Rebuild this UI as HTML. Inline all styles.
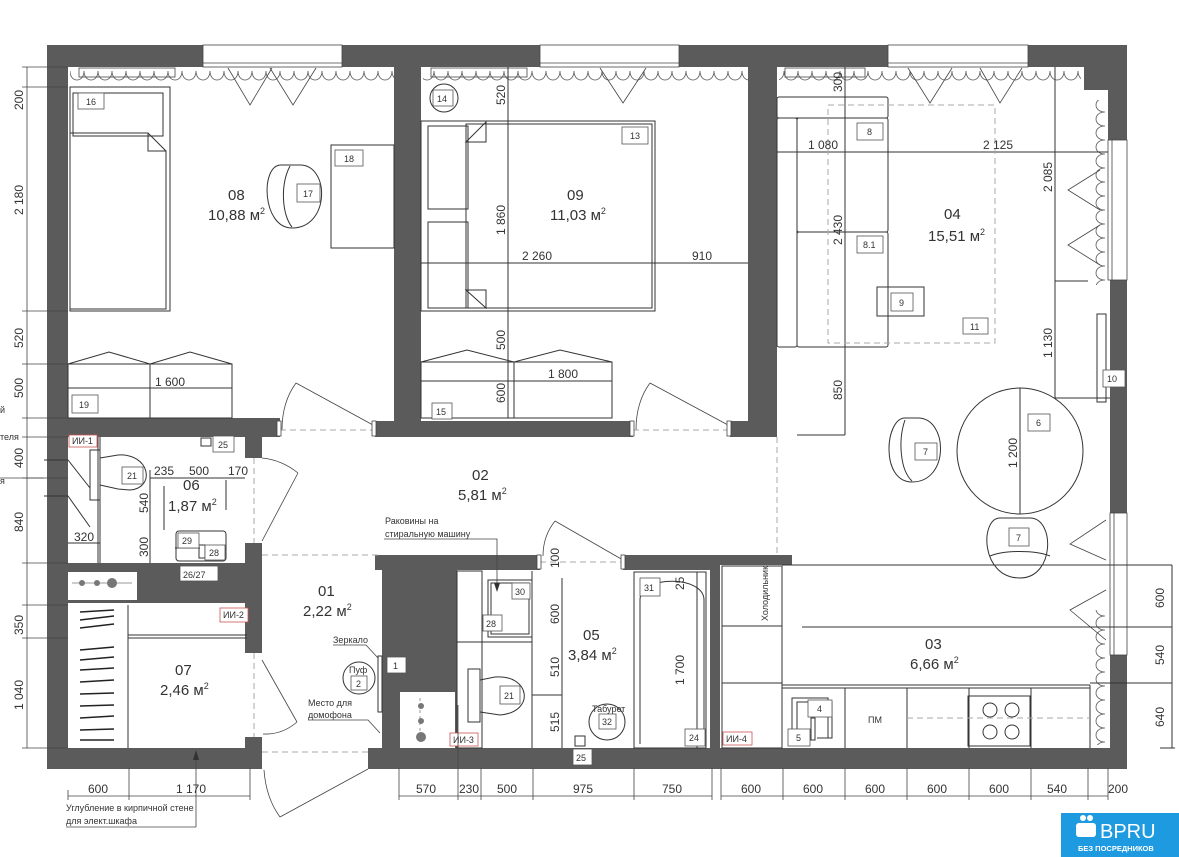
<!DOCTYPE html>
<html><head><meta charset="utf-8">
<style>
html,body{margin:0;padding:0;background:#fff;}
svg{display:block;}
text{font-family:"Liberation Sans Narrow","Liberation Sans",sans-serif;fill:#333;}
.r{font-size:15px;}
.d{font-size:12px;}
.s{font-size:9px;}
.l{fill:none;stroke:#333;stroke-width:1;}
.t{fill:none;stroke:#444;stroke-width:0.8;}
.w{fill:#5b5b5b;}
.bx{fill:#fff;stroke:#555;stroke-width:0.8;}
.red{fill:#fff;stroke:#c55;stroke-width:0.8;}
.dash{fill:none;stroke:#aaa;stroke-width:1;stroke-dasharray:6,4;}
</style></head><body>
<svg width="1179" height="857" viewBox="0 0 1179 857" xmlns="http://www.w3.org/2000/svg">
<defs>
<pattern id="sc" width="14" height="14" patternUnits="userSpaceOnUse">
<path d="M0,1 C0,13 14,13 14,1" fill="none" stroke="#555" stroke-width="0.8"/>
</pattern>
<pattern id="scv" width="14" height="14" patternUnits="userSpaceOnUse">
<path d="M13,0 C1,0 1,14 13,14" fill="none" stroke="#555" stroke-width="0.8"/>
</pattern>
</defs>

<!-- WALLS -->
<g class="w">
<rect x="47" y="45" width="156" height="22"/>
<rect x="342" y="45" width="198" height="22"/>
<rect x="679" y="45" width="209" height="22"/>
<rect x="1028" y="45" width="99" height="22"/>
<rect x="1084" y="45" width="43" height="45"/>
<rect x="1108" y="90" width="19" height="50"/>
<rect x="1110" y="280" width="17" height="233"/>
<rect x="1110" y="655" width="17" height="114"/>
<rect x="47" y="45" width="21" height="724"/>
<rect x="47" y="748" width="215" height="21"/>
<rect x="368" y="748" width="759" height="21"/>
<rect x="394" y="45" width="27" height="392"/>
<rect x="748" y="45" width="29" height="392"/>
<rect x="47" y="418" width="233" height="19"/>
<rect x="375" y="421" width="258" height="16"/>
<rect x="730" y="421" width="47" height="16"/>
<rect x="245" y="437" width="17" height="21"/>
<rect x="245" y="543" width="17" height="110"/>
<rect x="245" y="737" width="17" height="11"/>
<rect x="47" y="563" width="215" height="40"/>
<rect x="382" y="555" width="75" height="193"/>
<rect x="375" y="555" width="165" height="15"/>
<rect x="623" y="555" width="97" height="15"/>
<rect x="720" y="555" width="72" height="10"/>
<rect x="710" y="570" width="10" height="178"/>
</g>
<!-- windows -->
<g class="t">
<rect x="203" y="45" width="139" height="22" fill="#fff"/><line x1="203" y1="63" x2="342" y2="63"/>
<rect x="540" y="45" width="139" height="22" fill="#fff"/><line x1="540" y1="63" x2="679" y2="63"/>
<rect x="888" y="45" width="140" height="22" fill="#fff"/><line x1="888" y1="63" x2="1028" y2="63"/>
<rect x="1108" y="140" width="19" height="140" fill="#fff"/><line x1="1112" y1="140" x2="1112" y2="280"/>
<rect x="1110" y="513" width="17" height="142" fill="#fff"/><line x1="1114" y1="513" x2="1114" y2="655"/>
</g>
<!-- shaft boxes -->
<rect x="68" y="572" width="69" height="28" fill="#fff"/>
<g stroke="#777" stroke-width="0.8"><line x1="72" y1="583" x2="132" y2="583"/></g>
<circle cx="82" cy="583" r="3" fill="#777"/><circle cx="97" cy="583" r="3" fill="#777"/><circle cx="112" cy="583" r="5" fill="#777"/>
<rect x="400" y="692" width="55" height="56" fill="#fff"/>
<line x1="420" y1="698" x2="420" y2="742" stroke="#999" stroke-dasharray="3,3"/>
<circle cx="421" cy="706" r="3" fill="#777"/><circle cx="421" cy="721" r="3" fill="#777"/><circle cx="421" cy="737" r="5" fill="#777"/>

<!-- curtains -->
<rect x="70" y="71" width="324" height="12" fill="url(#sc)"/>
<rect x="423" y="71" width="325" height="12" fill="url(#sc)"/>
<rect x="779" y="71" width="302" height="12" fill="url(#sc)"/>
<rect x="1093" y="100" width="12" height="185" fill="url(#scv)"/>
<rect x="1095" y="610" width="12" height="135" fill="url(#scv)"/>
<g class="t">
<rect x="79" y="68" width="96" height="9"/><rect x="431" y="68" width="96" height="9"/><rect x="785" y="68" width="80" height="9"/>
<polyline points="228,68 250,105 272,68"/><polyline points="270,68 293,105 316,68"/>
<polyline points="600,68 623,103 646,68"/><polyline points="908,68 930,103 952,68"/><polyline points="980,68 1000,103 1022,68"/>
<polyline points="1100,170 1068,190 1100,210"/><polyline points="1100,225 1068,245 1100,265"/>
<polyline points="1106,520 1070,544 1106,560"/><polyline points="1106,590 1070,610 1106,640"/>
</g>

<!-- ROOM 08 -->
<g class="l">
<rect x="70" y="87" width="100" height="224"/>
<rect x="73" y="93" width="90" height="43"/>
<path d="M70,133 H148 L166,151 V309 H70"/><path d="M148,133 V151 H166"/>
<path d="M281,165 C260,165 262,228 292,228 C330,228 330,165 300,165 Z"/><path d="M290,166 C280,185 282,215 292,227"/>
<rect x="331" y="145" width="63" height="103"/>
<rect x="68" y="364" width="164" height="54"/><line x1="150" y1="364" x2="150" y2="418"/>
<polyline points="68,364 109,352 150,364 190,352 232,364"/>
<line x1="68" y1="388" x2="232" y2="388"/>
</g>
<rect class="bx" x="78" y="93" width="26" height="16"/><text class="s" x="86" y="105">16</text>
<rect class="bx" x="297" y="184" width="23" height="18"/><text class="s" x="303" y="197">17</text>
<rect class="bx" x="335" y="150" width="28" height="16"/><text class="s" x="344" y="162">18</text>
<rect class="bx" x="72" y="395" width="26" height="18"/><text class="s" x="79" y="408">19</text>
<text class="d" x="155" y="386">1 600</text>
<text class="r" x="228" y="200">08</text>
<text class="r" x="208" y="220">10,88 м<tspan font-size="9" dy="-6">2</tspan></text>

<!-- ROOM 09 -->
<g class="l">
<circle cx="444" cy="98" r="14"/>
<rect x="421" y="121" width="234" height="190"/><rect x="466" y="124" width="186" height="184"/>
<rect x="428" y="126" width="40" height="83"/><rect x="428" y="222" width="40" height="86"/>
<path d="M466,142 L486,122 V142 Z M466,290 L486,308 V290 Z"/>
<line x1="508" y1="67" x2="508" y2="418"/>
<line x1="421" y1="263" x2="748" y2="263"/>
<rect x="421" y="362" width="191" height="56"/><line x1="514" y1="362" x2="514" y2="418"/>
<polyline points="421,362 467,350 514,362 560,350 612,362"/>
<line x1="421" y1="381" x2="612" y2="381"/>
</g>
<rect class="bx" x="433" y="90" width="20" height="16"/><text class="s" x="437" y="102">14</text>
<rect class="bx" x="622" y="127" width="26" height="17"/><text class="s" x="630" y="139">13</text>
<rect class="bx" x="432" y="403" width="20" height="16"/><text class="s" x="436" y="415">15</text>
<text class="d" transform="translate(505,105) rotate(-90)">520</text>
<text class="d" transform="translate(505,235) rotate(-90)">1 860</text>
<text class="d" transform="translate(505,350) rotate(-90)">500</text>
<text class="d" transform="translate(505,403) rotate(-90)">600</text>
<text class="d" x="522" y="260">2 260</text><text class="d" x="692" y="260">910</text>
<text class="d" x="548" y="378">1 800</text>
<text class="r" x="567" y="200">09</text>
<text class="r" x="550" y="220">11,03 м<tspan font-size="9" dy="-6">2</tspan></text>

<!-- ROOM 04 -->
<g class="l">
<rect x="777" y="97" width="111" height="21" rx="2"/>
<rect x="777" y="118" width="20" height="229" rx="2"/>
<rect x="797" y="118" width="91" height="114" rx="2"/>
<rect x="797" y="232" width="91" height="115" rx="2"/>
<rect x="877" y="287" width="47" height="29"/>
<line x1="777" y1="152" x2="1108" y2="152"/>
<line x1="845" y1="67" x2="845" y2="435"/>
<line x1="797" y1="435" x2="845" y2="435"/>
<line x1="1055" y1="67" x2="1055" y2="398"/>
<line x1="1055" y1="281" x2="1088" y2="281"/>
<line x1="1055" y1="398" x2="1110" y2="398"/>
<rect x="1097" y="314" width="9" height="88"/>
<circle cx="1020" cy="451" r="63"/><line x1="1020" y1="388" x2="1020" y2="514"/>
<path d="M905,418 C885,418 880,482 912,482 C950,482 948,418 918,418 Z"/><path d="M905,420 C898,440 900,470 912,481"/>
<path d="M1000,518 C980,518 980,578 1020,578 C1055,578 1055,518 1030,518 Z"/><path d="M990,556 C1005,550 1035,550 1050,556"/>
</g>
<rect x="828" y="105" width="167" height="238" class="dash"/>
<rect class="bx" x="857" y="123" width="26" height="17"/><text class="s" x="867" y="135">8</text>
<rect class="bx" x="857" y="236" width="26" height="17"/><text class="s" x="863" y="248">8.1</text>
<rect class="bx" x="891" y="293" width="22" height="18"/><text class="s" x="899" y="306">9</text>
<rect class="bx" x="963" y="318" width="25" height="16"/><text class="s" x="970" y="330">11</text>
<rect class="bx" x="1103" y="370" width="22" height="17"/><text class="s" x="1107" y="382">10</text>
<rect class="bx" x="1028" y="414" width="22" height="17"/><text class="s" x="1036" y="426">6</text>
<rect class="bx" x="915" y="443" width="22" height="17"/><text class="s" x="923" y="455">7</text>
<rect class="bx" x="1009" y="528" width="20" height="18"/><text class="s" x="1016" y="541">7</text>
<text class="d" x="808" y="149">1 080</text><text class="d" x="983" y="149">2 125</text>
<text class="d" transform="translate(842,92) rotate(-90)">300</text>
<text class="d" transform="translate(842,245) rotate(-90)">2 430</text>
<text class="d" transform="translate(842,400) rotate(-90)">850</text>
<text class="d" transform="translate(1052,192) rotate(-90)">2 085</text>
<text class="d" transform="translate(1052,358) rotate(-90)">1 130</text>
<text class="d" transform="translate(1017,468) rotate(-90)">1 200</text>
<text class="r" x="944" y="219">04</text>
<text class="r" x="928" y="241">15,51 м<tspan font-size="9" dy="-6">2</tspan></text>
<line x1="777" y1="437" x2="777" y2="555" class="dash"/>

<!-- HALL 02 -->
<text class="r" x="472" y="480">02</text>
<text class="r" x="458" y="500">5,81 м<tspan font-size="9" dy="-6">2</tspan></text>
<text class="s" x="385" y="524">Раковины на</text>
<text class="s" x="385" y="537">стиральную машину</text>
<polyline class="t" points="384,539 497,539 497,590"/>
<path d="M494,583 L497,592 L500,583 Z" fill="#333"/>

<!-- doors -->
<g class="t">
<path d="M373,425 L296,383 M296,383 Q282,402 282,430"/>
<path d="M728,425 L650,383 M650,383 Q636,402 636,430"/>
<path d="M262,541 L298,473 M298,473 Q282,460 262,458"/>
<path d="M623,560 L555,521 M555,521 Q543,536 543,556"/>
<path d="M262,660 L297,722 M297,722 Q282,735 263,734"/>
<path d="M368,769 L280,817 M280,817 Q266,798 264,770"/>
</g>
<g class="dash" stroke-width="0.8">
<line x1="280" y1="430" x2="375" y2="430"/><line x1="633" y1="430" x2="730" y2="430"/>
<line x1="254" y1="458" x2="254" y2="543"/><line x1="254" y1="653" x2="254" y2="737"/>
<line x1="540" y1="562" x2="623" y2="562"/><line x1="262" y1="752" x2="368" y2="752"/>
<line x1="262" y1="555" x2="382" y2="555"/>
</g>
<g fill="#fff" stroke="#444" stroke-width="0.8">
<rect x="277" y="421" width="4" height="15"/><rect x="372" y="421" width="4" height="15"/>
<rect x="630" y="421" width="4" height="15"/><rect x="727" y="421" width="4" height="15"/>
<rect x="537" y="555" width="4" height="14"/><rect x="621" y="555" width="4" height="14"/>
</g>

<!-- ROOM 06 -->
<g class="l">
<line x1="100" y1="437" x2="100" y2="563"/><line x1="98" y1="437" x2="98" y2="563"/>
<rect x="90" y="450" width="10" height="50"/>
<path d="M100,458 L118,455 C150,453 156,488 130,490 L118,489 L100,485"/>
<line x1="150" y1="470" x2="150" y2="563"/>
<line x1="150" y1="478" x2="245" y2="478"/>
<line x1="68" y1="543" x2="100" y2="543"/>
<rect x="176" y="531" width="50" height="30" rx="3"/>
<line x1="175" y1="548" x2="200" y2="548"/><rect x="199" y="545" width="6" height="13"/>
<line x1="164" y1="486" x2="164" y2="530"/><line x1="226" y1="480" x2="226" y2="510"/>
<polyline points="44,460 68,460 90,488"/><polyline points="44,496 68,496 90,527"/>
<rect x="201" y="438" width="10" height="8"/>
</g>
<rect class="red" x="69" y="435" width="28" height="12"/><text class="s" x="72" y="444" fill="#b44">ИИ-1</text>
<rect class="bx" x="213" y="436" width="21" height="16"/><text class="s" x="218" y="448">25</text>
<rect class="bx" x="122" y="467" width="21" height="17"/><text class="s" x="127" y="479">21</text>
<rect class="bx" x="178" y="533" width="21" height="15"/><text class="s" x="182" y="544">29</text>
<rect class="bx" x="205" y="545" width="20" height="15"/><text class="s" x="209" y="556">28</text>
<rect class="bx" x="180" y="566" width="38" height="15"/><text class="s" x="183" y="578">26/27</text>
<text class="d" x="154" y="475">235</text><text class="d" x="189" y="475">500</text><text class="d" x="228" y="475">170</text>
<text class="d" x="74" y="541">320</text>
<text class="d" transform="translate(148,513) rotate(-90)">540</text>
<text class="d" transform="translate(148,557) rotate(-90)">300</text>
<text class="r" x="183" y="490">06</text>
<text class="r" x="168" y="511">1,87 м<tspan font-size="9" dy="-6">2</tspan></text>

<!-- ROOM 07 -->
<g class="l">
<line x1="128" y1="605" x2="128" y2="748"/><line x1="128" y1="638" x2="247" y2="638"/><line x1="128" y1="635" x2="247" y2="635"/>
</g>
<g stroke="#222" stroke-width="1.5">
<line x1="80" y1="612" x2="114" y2="610"/><line x1="80" y1="620" x2="114" y2="616"/><line x1="80" y1="628" x2="114" y2="624"/>
<line x1="80" y1="650" x2="114" y2="647"/><line x1="80" y1="660" x2="114" y2="657"/><line x1="80" y1="670" x2="114" y2="668"/>
<line x1="80" y1="682" x2="114" y2="680"/><line x1="80" y1="694" x2="114" y2="693"/><line x1="80" y1="706" x2="114" y2="705"/>
<line x1="80" y1="718" x2="114" y2="716"/><line x1="80" y1="730" x2="114" y2="729"/><line x1="80" y1="740" x2="114" y2="740"/>
</g>
<rect class="red" x="220" y="608" width="28" height="14"/><text class="s" x="223" y="618" fill="#b44">ИИ-2</text>
<text class="r" x="175" y="675">07</text>
<text class="r" x="160" y="695">2,46 м<tspan font-size="9" dy="-6">2</tspan></text>

<!-- ROOM 01 -->
<text class="r" x="318" y="596">01</text>
<text class="r" x="303" y="616">2,22 м<tspan font-size="9" dy="-6">2</tspan></text>
<text class="s" x="333" y="643">Зеркало</text>
<polyline class="t" points="333,645 366,645 378,658"/>
<rect x="378" y="656" width="4" height="56" fill="#fff" stroke="#333"/>
<rect class="bx" x="387" y="657" width="19" height="16"/><text class="s" x="393" y="669">1</text>
<circle cx="359" cy="678" r="16" class="l"/>
<text class="s" x="349" y="673">Пуф</text>
<rect class="bx" x="351" y="676" width="16" height="14"/><text class="s" x="356" y="687">2</text>
<text class="s" x="308" y="706">Место для</text>
<text class="s" x="308" y="718">домофона</text>
<polyline class="t" points="308,720 368,720 380,733"/>

<!-- ROOM 05 -->
<g class="l">
<rect x="457" y="571" width="25" height="177"/>
<line x1="457" y1="642" x2="532" y2="642"/>
<rect x="488" y="580" width="44" height="57"/><rect x="491" y="583" width="38" height="51"/>
<line x1="532" y1="571" x2="532" y2="748"/>
<rect x="468" y="669" width="12" height="53"/>
<path d="M480,680 L495,677 C530,674 536,712 500,715 L480,712"/>
<line x1="532" y1="695" x2="562" y2="695"/>
<line x1="562" y1="578" x2="562" y2="748"/>
<circle cx="607" cy="722" r="18"/>
<rect x="634" y="572" width="72" height="176"/>
<path d="M640,744 V600 C640,575 704,575 704,600 V744"/><line x1="697" y1="572" x2="697" y2="748"/>
<rect x="575" y="736" width="10" height="10"/>
</g>
<rect class="bx" x="512" y="583" width="18" height="16"/><text class="s" x="515" y="595">30</text>
<rect class="bx" x="483" y="615" width="19" height="16"/><text class="s" x="486" y="627">28</text>
<rect class="bx" x="500" y="686" width="20" height="18"/><text class="s" x="504" y="699">21</text>
<rect class="bx" x="599" y="714" width="17" height="15"/><text class="s" x="602" y="725">32</text>
<text class="s" x="592" y="712">Табурет</text>
<rect class="bx" x="640" y="578" width="20" height="18"/><text class="s" x="644" y="591">31</text>
<rect class="bx" x="685" y="729" width="20" height="17"/><text class="s" x="689" y="741">24</text>
<rect class="bx" x="573" y="749" width="19" height="16"/><text class="s" x="576" y="761">25</text>
<rect class="red" x="450" y="733" width="28" height="13"/><text class="s" x="453" y="743" fill="#b44">ИИ-3</text>
<text class="d" transform="translate(559,624) rotate(-90)">600</text>
<text class="d" transform="translate(559,677) rotate(-90)">510</text>
<text class="d" transform="translate(559,732) rotate(-90)">515</text>
<text class="d" transform="translate(559,568) rotate(-90)">100</text>
<text class="d" transform="translate(684,685) rotate(-90)">1 700</text>
<text class="d" transform="translate(684,590) rotate(-90)">25</text>
<text class="r" x="583" y="640">05</text>
<text class="r" x="568" y="660">3,84 м<tspan font-size="9" dy="-6">2</tspan></text>

<!-- ROOM 03 -->
<g class="l">
<rect x="722" y="566" width="60" height="182"/>
<line x1="722" y1="626" x2="782" y2="626"/><line x1="722" y1="683" x2="782" y2="683"/>
<line x1="782" y1="565" x2="1172" y2="565"/>
<line x1="802" y1="627" x2="1172" y2="627"/>
<line x1="782" y1="685" x2="1090" y2="685"/><line x1="782" y1="688" x2="1090" y2="688"/>
<line x1="1090" y1="685" x2="1090" y2="748"/>
<line x1="845" y1="688" x2="845" y2="748"/><line x1="907" y1="688" x2="907" y2="748"/>
<line x1="969" y1="688" x2="969" y2="748"/><line x1="1031" y1="688" x2="1031" y2="748"/>
<line x1="1090" y1="683" x2="1172" y2="683"/>
<line x1="1172" y1="565" x2="1172" y2="748"/><line x1="1160" y1="748" x2="1175" y2="748"/>
<rect x="968" y="696" width="62" height="50"/>
<circle cx="990" cy="710" r="7"/><circle cx="1012" cy="710" r="7"/><circle cx="990" cy="732" r="7"/><circle cx="1012" cy="732" r="7"/>
<path d="M792,742 V698 H828 V738"/><path d="M797,742 V702 H832 V738 H817"/><rect x="811" y="718" width="4" height="22"/>
</g>
<line x1="907" y1="718" x2="1090" y2="718" class="dash"/>
<rect class="bx" x="808" y="700" width="24" height="17"/><text class="s" x="817" y="712">4</text>
<rect class="bx" x="788" y="729" width="22" height="17"/><text class="s" x="796" y="741">5</text>
<rect class="red" x="723" y="732" width="29" height="13"/><text class="s" x="726" y="742" fill="#b44">ИИ-4</text>
<text class="s" x="868" y="723" font-size="11">ПМ</text>
<text class="s" transform="translate(768,621) rotate(-90)">Холодильник</text>
<text class="d" transform="translate(1164,608) rotate(-90)">600</text>
<text class="d" transform="translate(1164,665) rotate(-90)">540</text>
<text class="d" transform="translate(1164,727) rotate(-90)">640</text>
<text class="r" x="925" y="649">03</text>
<text class="r" x="910" y="669">6,66 м<tspan font-size="9" dy="-6">2</tspan></text>

<!-- left dims -->
<g class="t">
<line x1="27" y1="67" x2="27" y2="748"/>
<line x1="22" y1="67" x2="68" y2="67"/><line x1="22" y1="87" x2="68" y2="87"/>
<line x1="22" y1="311" x2="68" y2="311"/><line x1="22" y1="364" x2="68" y2="364"/>
<line x1="22" y1="418" x2="68" y2="418"/><line x1="22" y1="437" x2="68" y2="437"/>
<line x1="22" y1="478" x2="68" y2="478"/><line x1="22" y1="563" x2="68" y2="563"/>
<line x1="22" y1="605" x2="68" y2="605"/><line x1="22" y1="638" x2="68" y2="638"/>
<line x1="22" y1="748" x2="68" y2="748"/>
<line x1="0" y1="478" x2="44" y2="478"/>
</g>
<text class="d" transform="translate(23,110) rotate(-90)">200</text>
<text class="d" transform="translate(23,215) rotate(-90)">2 180</text>
<text class="d" transform="translate(23,348) rotate(-90)">520</text>
<text class="d" transform="translate(23,398) rotate(-90)">500</text>
<text class="d" transform="translate(23,468) rotate(-90)">400</text>
<text class="d" transform="translate(23,532) rotate(-90)">840</text>
<text class="d" transform="translate(23,635) rotate(-90)">350</text>
<text class="d" transform="translate(23,710) rotate(-90)">1 040</text>
<text class="s" x="0" y="440">теля</text>
<text class="s" x="0" y="413">й</text>
<text class="s" x="0" y="484">я</text>

<!-- bottom dims -->
<g class="t">
<line x1="68" y1="796" x2="250" y2="796"/>
<line x1="68" y1="790" x2="68" y2="800"/><line x1="129" y1="768" x2="129" y2="800"/><line x1="250" y1="768" x2="250" y2="800"/>
<line x1="399" y1="796" x2="712" y2="796"/>
<line x1="399" y1="768" x2="399" y2="800"/><line x1="458" y1="705" x2="458" y2="800"/><line x1="481" y1="768" x2="481" y2="800"/>
<line x1="533" y1="768" x2="533" y2="800"/><line x1="634" y1="768" x2="634" y2="800"/><line x1="712" y1="768" x2="712" y2="800"/>
<line x1="721" y1="796" x2="1108" y2="796"/>
<line x1="721" y1="768" x2="721" y2="800"/><line x1="783" y1="768" x2="783" y2="800"/><line x1="845" y1="768" x2="845" y2="800"/>
<line x1="907" y1="768" x2="907" y2="800"/><line x1="969" y1="768" x2="969" y2="800"/><line x1="1031" y1="768" x2="1031" y2="800"/>
<line x1="1088" y1="768" x2="1088" y2="800"/><line x1="1108" y1="768" x2="1108" y2="800"/>
<line x1="196" y1="752" x2="196" y2="827"/><line x1="66" y1="827" x2="196" y2="827"/>
</g>
<path d="M193,760 L196,750 L199,760 Z" fill="#333"/>
<text class="d" x="88" y="793">600</text><text class="d" x="176" y="793">1 170</text>
<text class="d" x="416" y="793">570</text><text class="d" x="459" y="793">230</text><text class="d" x="497" y="793">500</text>
<text class="d" x="573" y="793">975</text><text class="d" x="662" y="793">750</text>
<text class="d" x="741" y="793">600</text><text class="d" x="803" y="793">600</text><text class="d" x="865" y="793">600</text>
<text class="d" x="927" y="793">600</text><text class="d" x="989" y="793">600</text><text class="d" x="1047" y="793">540</text>
<text class="d" x="1108" y="793">200</text>
<text class="s" x="66" y="811">Углубление в кирпичной стене</text>
<text class="s" x="66" y="824">для элект.шкафа</text>

<!-- logo -->
<rect x="1061" y="813" width="118" height="44" fill="#1e9be0"/>
<circle cx="1083" cy="818" r="3" fill="#fff"/><circle cx="1090" cy="818" r="3" fill="#fff"/>
<rect x="1076" y="823" width="20" height="14" rx="3" fill="#fff"/>
<text x="1100" y="838" style="fill:#fff;font-family:'Liberation Sans',sans-serif;font-size:20px;">BPRU</text>
<text x="1078" y="851" style="fill:#fff;font-family:'Liberation Sans',sans-serif;font-size:7.5px;font-weight:bold;">БЕЗ ПОСРЕДНИКОВ</text>
</svg>
</body></html>
